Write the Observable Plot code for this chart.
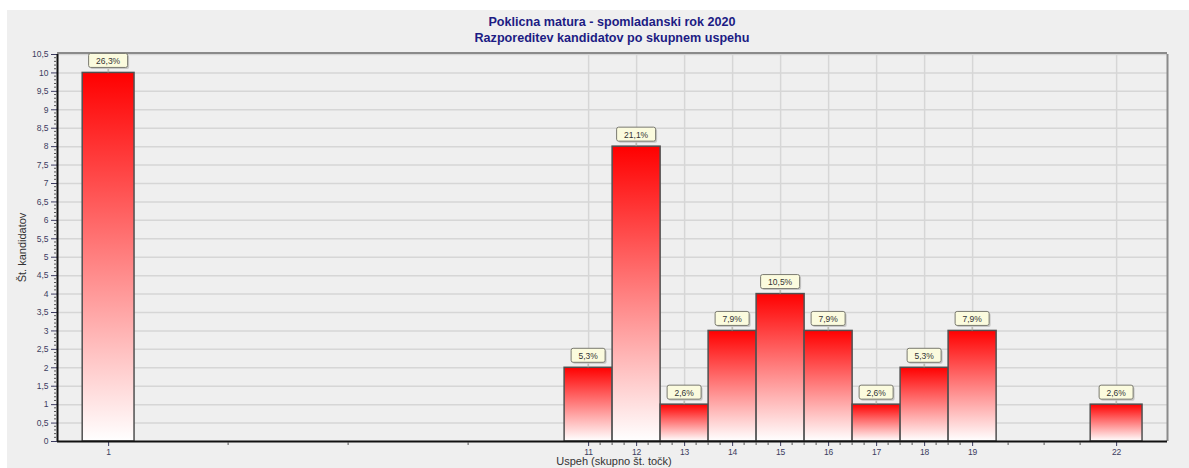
<!DOCTYPE html>
<html><head><meta charset="utf-8">
<script src="https://cdn.jsdelivr.net/npm/d3@7"></script>
<script src="https://cdn.jsdelivr.net/npm/@observablehq/plot@0.6"></script>
<style>
body{margin:0;background:#fff;font-family:Arial,"Liberation Sans",sans-serif;}
#bg{position:absolute;left:7px;top:10px;width:1182px;height:458px;background:#efefef;}
#chart{position:absolute;left:0;top:0;}
</style></head><body><div id="bg"></div><div id="chart"></div>
<script>
// ---- data ----
const points = [1, 11, 12, 13, 14, 15, 16, 17, 18, 19, 22];          // Uspeh (skupno št. točk)
const candidates = [10, 2, 8, 1, 3, 4, 3, 1, 2, 3, 1];             // Št. kandidatov
const percents = [26.3, 5.3, 21.1, 2.6, 7.9, 10.5, 7.9, 2.6, 5.3, 7.9, 2.6];
const yTicks = [0, 0.5, 1, 1.5, 2, 2.5, 3, 3.5, 4, 4.5, 5, 5.5, 6, 6.5, 7, 7.5, 8, 8.5, 9, 9.5, 10, 10.5];
const xTicks = [1, 11, 12, 13, 14, 15, 16, 17, 18, 19, 22];
const titleLines = ["Poklicna matura - spomladanski rok 2020", "Razporeditev kandidatov po skupnem uspehu"];
const yLabel = "Št. kandidatov";
const xLabel = "Uspeh (skupno št. točk)";

const fmt = v => String(v).replace(".", ",");
const data = points.map((p, i) => ({
  p, n: candidates[i], pct: fmt(percents[i]) + "%",
  half: (points.includes(p - 1) || points.includes(p + 1)) ? 0.5 : 0.54
}));

// minor ticks: 3 between each pair of x majors, 4 between y majors
const xMinor = [];
for (let i = 0; i < xTicks.length - 1; i++) for (let k = 1; k < 4; k++) xMinor.push(xTicks[i] + (xTicks[i + 1] - xTicks[i]) * k / 4);
const yMinor = [];
for (let i = 0; i < yTicks.length - 1; i++) for (let k = 1; k < 5; k++) yMinor.push(yTicks[i] + (yTicks[i + 1] - yTicks[i]) * k / 5);

const W = 1189, H = 468;
const XMIN = -0.065, XMAX = 23.06;
const NS = "http://www.w3.org/2000/svg";
const el = (tag, attrs, parent) => { const e = document.createElementNS(NS, tag); for (const k in attrs) e.setAttribute(k, attrs[k]); if (parent) parent.appendChild(e); return e; };

const canvas = document.createElement("canvas").getContext("2d");
canvas.font = "8.5px Arial, 'Liberation Sans'";

const defs = () => {
  const d = el("defs", {});
  const g = el("linearGradient", {id: "barGrad", x1: 0, y1: 0, x2: 0, y2: 1}, d);
  el("stop", {offset: "0%", "stop-color": "#ff0000"}, g);
  el("stop", {offset: "100%", "stop-color": "#ffffff"}, g);
  return d;
};

const extras = (index, scales) => {
  const x = scales.x, y = scales.y;
  const g = el("g", {});
  // minor ticks
  const y0 = y(0), xl = x(XMIN);
  for (const v of xMinor) el("line", {x1: x(v), x2: x(v), y1: y0 + 1, y2: y0 + 4, stroke: "#555", "stroke-width": 1}, g);
  for (const v of yMinor) el("line", {x1: xl - 3, x2: xl - 1, y1: y(v), y2: y(v), stroke: "#555", "stroke-width": 1}, g);
  // value labels
  for (const d of data) {
    const cx = x(d.p), top = y(d.n);
    const w = Math.round(canvas.measureText(d.pct).width) + 15, h = 14;
    const bx = cx - w / 2, by = top - 5 - h;
    el("line", {x1: cx, x2: cx, y1: top - 5, y2: top, stroke: "#b0b0a0", "stroke-width": 1}, g);
    el("rect", {x: bx + 1.5, y: by + 1.5, width: w, height: h, rx: 2, fill: "#c8c8c8"}, g);
    el("rect", {x: bx, y: by, width: w, height: h, rx: 2, fill: "#fbfbde", stroke: "#7a7a70", "stroke-width": 1}, g);
    const t = el("text", {x: cx, y: by + 10.5, "text-anchor": "middle", "font-size": "8.5px", fill: "#333"}, g);
    t.textContent = d.pct;
  }
  // titles
  titleLines.forEach((s, i) => {
    const t = el("text", {x: (x(XMIN) + x(XMAX)) / 2, y: 26 + i * 16, "text-anchor": "middle", "font-size": "12.6px", "font-weight": "bold", fill: "#1c1c84"}, g);
    t.textContent = s;
  });
  const ty = el("text", {transform: `translate(26,${(y(0) + y(10.5)) / 2}) rotate(-90)`, "text-anchor": "middle", "font-size": "11px", fill: "#333"}, g);
  ty.textContent = yLabel;
  const tx = el("text", {x: (x(XMIN) + x(XMAX)) / 2 + 2, y: 465, "text-anchor": "middle", "font-size": "11px", fill: "#333"}, g);
  tx.textContent = xLabel;
  return g;
};

const chart = Plot.plot({
  width: W, height: H,
  marginLeft: 57, marginRight: 22, marginTop: 54, marginBottom: 27,
  style: {background: "transparent", fontFamily: "Arial, 'Liberation Sans', sans-serif", fontSize: "8.5px", color: "#3c3c60", overflow: "visible"},
  x: {domain: [XMIN, XMAX], ticks: xTicks, tickFormat: fmt, tickSize: 5, tickPadding: 2, label: null},
  y: {domain: [0, 10.5], ticks: yTicks, tickFormat: fmt, tickSize: 6, tickPadding: 3, label: null},
  marks: [
    defs,
    Plot.ruleY(yTicks.slice(1), {stroke: "#d6d6d6", strokeOpacity: 1, strokeWidth: 1.5}),
    Plot.ruleX(xTicks, {stroke: "#d6d6d6", strokeOpacity: 1, strokeWidth: 1.5}),
    Plot.ruleY([10.5], {stroke: "#8a8a8a", strokeWidth: 2, dy: -1.5}),
    Plot.ruleX([XMAX], {stroke: "#8a8a8a", strokeWidth: 2}),
    Plot.rectY(data, {x1: d => d.p - d.half, x2: d => d.p + d.half, y1: 0, y2: "n", fill: "url(#barGrad)", stroke: "#505050", strokeWidth: 1.5}),
    Plot.ruleY([0], {stroke: "#111", strokeWidth: 2}),
    Plot.ruleX([XMIN], {stroke: "#111", strokeWidth: 2, y1: 0, y2: 10.5, dy: 0}),
    extras
  ]
});
document.getElementById("chart").appendChild(chart);
</script>
</body></html>
